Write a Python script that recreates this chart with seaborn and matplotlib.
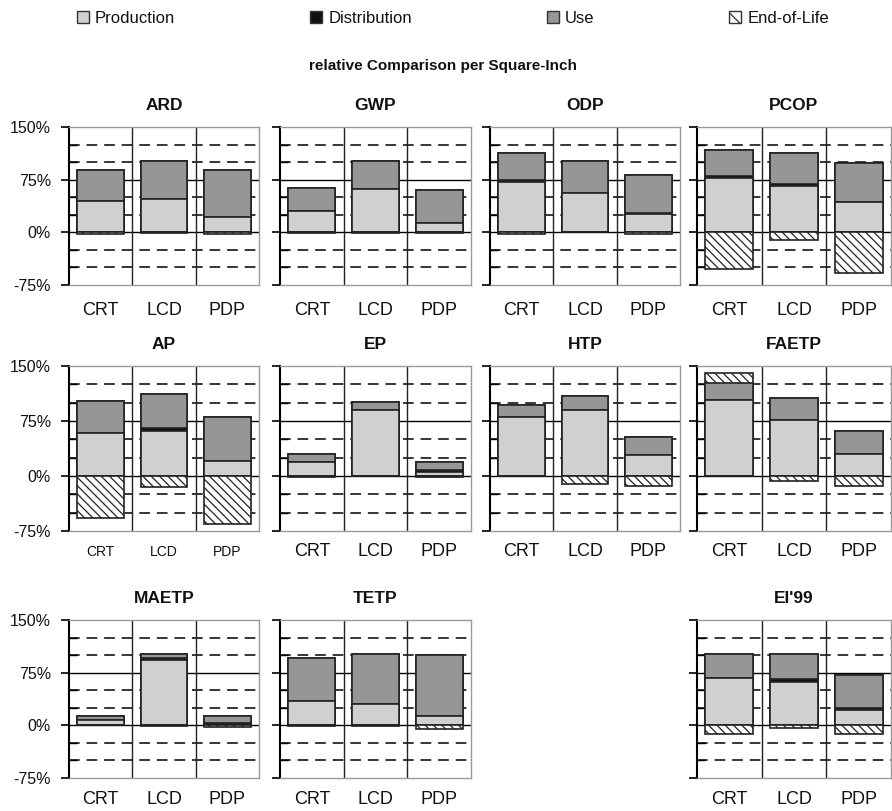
import numpy as np
import matplotlib.pyplot as plt
import seaborn as sns
from matplotlib.patches import Patch
from matplotlib.ticker import MultipleLocator

# Relative comparison per square inch: CRT vs LCD vs PDP, life-cycle phases per impact category

products = ['CRT', 'LCD', 'PDP']
impacts = ['ARD', 'GWP', 'ODP', 'PCOP', 'AP', 'EP', 'HTP', 'FAETP', 'MAETP', 'TETP', "EI'99"]
phases = ['Production', 'Distribution', 'Use', 'End-of-Life']

# values in %, one row per impact category, columns CRT / LCD / PDP
production = [[44, 47, 22], [31, 62, 13], [71, 56, 26], [78, 66, 43],
              [58, 62, 21], [19, 90, 5], [80, 90, 29], [103, 77, 30],
              [7, 93, 1], [35, 31, 13], [67, 62, 22]]
distribution = [[0, 0, 0], [0, 0, 0], [3, 0, 2], [2, 3, 0],
                [0, 3, 0], [0, 0, 3], [1, 0, 0], [0, 0, 0],
                [0, 3, 3], [0, 0, 0], [0, 4, 3]]
use = [[45, 55, 67], [32, 40, 47], [39, 46, 54], [37, 44, 56],
       [44, 47, 60], [11, 11, 11], [16, 19, 24], [24, 29, 32],
       [6, 6, 9], [61, 71, 87], [35, 36, 47]]
end_of_life = [[-3, -1, -3], [-1, -1, -1], [-3, 0, -3], [-52, -11, -58],
               [-57, -15, -65], [-2, 0, -2], [0, -11, -13], [14, -7, -13],
               [0, -1, -2], [-1, -1, -5], [-13, -4, -13]]

prod_c = '#d0d0d0'
dist_c = '#111111'
use_c = '#969696'
edge_c = '#222222'
hatch = '\\\\\\\\'

sns.set_theme(style='white')
plt.rcParams['font.family'] = ['Liberation Sans', 'DejaVu Sans']
plt.rcParams['text.color'] = '#111111'
plt.rcParams['xtick.labelcolor'] = '#111111'
plt.rcParams['ytick.labelcolor'] = '#111111'
plt.rcParams['hatch.linewidth'] = 0.9
plt.rcParams['hatch.color'] = '#333333'

W, H = 892, 811
fig = plt.figure(figsize=(W / 100, H / 100), dpi=100)

# panel layout in pixels
col_left = [69, 280, 490, 697]
col_width = [190, 191, 190, 194]
row_top = [127, 366, 620]
row_bottom = [285, 531, 778]
slots = [(0, 0), (0, 1), (0, 2), (0, 3), (1, 0), (1, 1), (1, 2), (1, 3), (2, 0), (2, 1), (2, 3)]

for i, name in enumerate(impacts):
    r, c = slots[i]
    ax = fig.add_axes([col_left[c] / W, 1 - row_bottom[r] / H,
                       col_width[c] / W, (row_bottom[r] - row_top[r]) / H])

    p = np.array(production[i])
    d = np.array(distribution[i])
    u = np.array(use[i])
    e = np.array(end_of_life[i])
    top_prod = p
    top_dist = p + d
    top_use = p + d + u
    top_eol = top_use + np.maximum(e, 0)

    # stacked by overdrawing, tallest first
    layers = [(top_eol, 'white', hatch), (top_use, use_c, None),
              (top_dist, dist_c, None), (top_prod, prod_c, None),
              (np.minimum(e, 0), 'white', hatch)]
    for level, color, h in layers:
        sns.barplot(x=products, y=level, color=color, saturation=1, width=0.74,
                    edgecolor=edge_c, linewidth=1.2, hatch=h, ax=ax, zorder=2)

    # grid: solid at 0 and 75, dashed every 25
    for y in [-50, -25, 25, 50, 100, 125]:
        ax.axhline(y, color='black', lw=1.1, ls=(0, (7, 4.5)), zorder=1)
    for y in [0, 75]:
        ax.axhline(y, color='black', lw=1, zorder=1)
    for x in [0.5, 1.5]:
        ax.axvline(x, color='#222222', lw=1, zorder=1)

    ax.set_ylim(-75, 150)
    ax.set_xlim(-0.5, 2.5)
    ax.yaxis.set_major_locator(MultipleLocator(75))
    ax.yaxis.set_minor_locator(MultipleLocator(25))
    ax.tick_params(axis='y', which='major', direction='out', length=6, width=1.2,
                   color='black', left=True, pad=7)
    ax.tick_params(axis='y', which='minor', direction='in', length=6, width=1.0,
                   color='black', left=True)
    if c == 0:
        ax.set_yticks([-75, 0, 75, 150])
        ax.set_yticklabels(['-75%', '0%', '75%', '150%'], fontsize=11.5)
    else:
        ax.tick_params(axis='y', labelleft=False)

    xfs = 10 if name == 'AP' else 13
    ax.set_xticks([0, 1, 2])
    ax.set_xticklabels(products, fontsize=xfs)
    ax.tick_params(axis='x', length=0, pad=12 if r == 0 else (10 if name == 'AP' else 9))
    ax.set_xlabel('')
    ax.set_ylabel('')

    for side in ['top', 'right', 'bottom']:
        ax.spines[side].set_color('#9a9a9a')
        ax.spines[side].set_linewidth(1.0)
    ax.spines['left'].set_color('black')
    ax.spines['left'].set_linewidth(1.5)

    ax.set_title(name, fontsize=12.5, fontweight='bold', pad=12.5)

handles = [Patch(facecolor=prod_c, edgecolor='#333333'),
           Patch(facecolor=dist_c, edgecolor='#333333'),
           Patch(facecolor=use_c, edgecolor='#333333'),
           Patch(facecolor='white', edgecolor='#333333', hatch='\\\\')]
fig.legend(handles, phases, ncol=4, loc='center', bbox_to_anchor=(453 / W, 1 - 18.5 / H),
           frameon=False, fontsize=12, handlelength=0.72, handleheight=0.72,
           handletextpad=0.36, columnspacing=8.1, borderaxespad=0, borderpad=0)

fig.text(443 / W, 1 - 66 / H, 'relative Comparison per Square-Inch',
         ha='center', va='center', fontsize=11, fontweight='bold')

fig.savefig('out.png', dpi=100)
